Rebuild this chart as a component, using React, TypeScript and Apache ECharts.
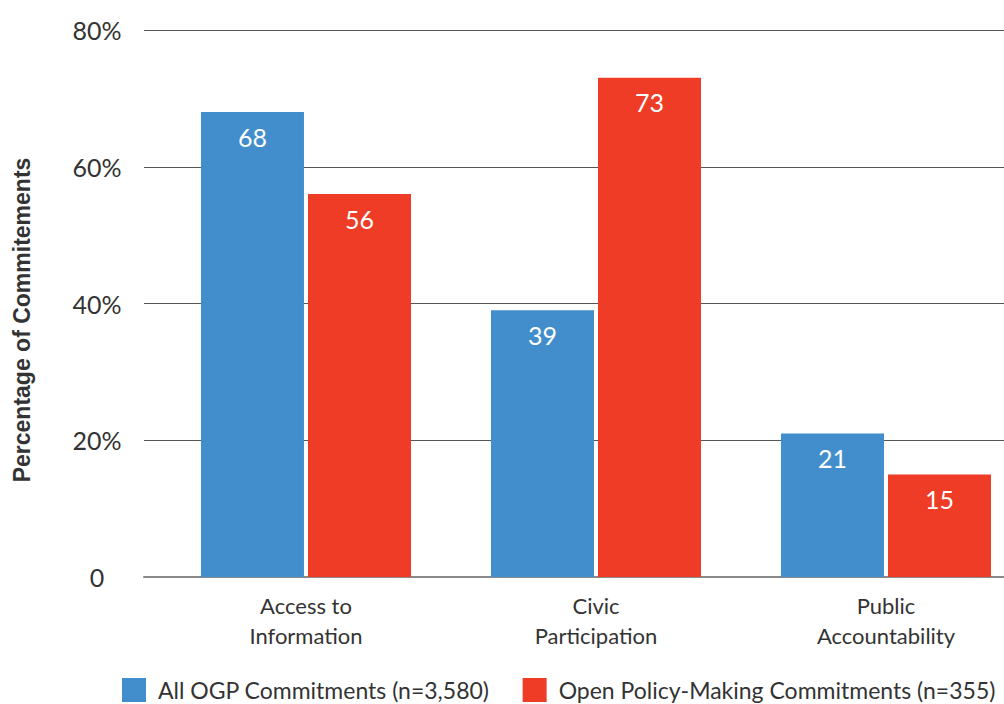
import React, { useEffect, useRef } from "react";
import * as echarts from "echarts";

const categories = ["Access to\nInformation", "Civic\nParticipation", "Public\nAccountability"];
const allOgp = [68, 39, 21];
const openPolicy = [56, 73, 15];
const seriesNames = ["All OGP Commitments (n=3,580)", "Open Policy-Making Commitments (n=355)"];
const yTicks = [0, 20, 40, 60, 80];
const yTitle = "Percentage of Commitements";

const BLUE = "#428ECC";
const RED = "#EE3C26";
const FONT = "Lato, 'Open Sans', sans-serif";

// The drawing surface is a little wider than the visible page so the bar
// frame can run past the right edge; the wrapper clips the overflow.
const VIEW_W = 1004;
const VIEW_H = 704;
const CANVAS_W = 1040;

export default function App() {
  const ref = useRef<HTMLDivElement>(null);

  useEffect(() => {
    if (!ref.current) return;
    const chart = echarts.init(ref.current, undefined, { renderer: "svg" });
    const yMax = yTicks[yTicks.length - 1];
    const step = yTicks[1] - yTicks[0];

    const barLabel = {
      show: true,
      position: "insideTop",
      distance: 12,
      color: "#ffffff",
      fontFamily: FONT,
      fontSize: 25,
    };

    chart.setOption({
      animation: false,
      backgroundColor: "#ffffff",
      textStyle: { fontFamily: FONT },
      grid: [
        // frame for the value scale and gridlines
        { left: 144, right: CANVAS_W - VIEW_W, top: 30, bottom: 127 },
        // frame holding the bars
        { left: 161, width: 870, top: 30, bottom: 127 },
      ],
      xAxis: [
        {
          gridIndex: 0,
          type: "category",
          data: categories,
          axisLine: { show: true, lineStyle: { color: "#8a8a8a", width: 2 } },
          axisTick: { show: false },
          axisLabel: { show: false },
        },
        {
          gridIndex: 1,
          type: "category",
          data: categories,
          axisLine: { show: false },
          axisTick: { show: false },
          axisLabel: {
            margin: 13,
            color: "#333333",
            fontFamily: FONT,
            fontSize: 22,
            lineHeight: 30,
          },
        },
      ],
      yAxis: [
        {
          gridIndex: 0,
          type: "value",
          min: 0,
          max: yMax,
          interval: step,
          axisLine: { show: false },
          axisTick: { show: false },
          splitLine: { show: true, lineStyle: { color: "#555555", width: 1.2 } },
          axisLabel: {
            margin: 47,
            align: "center",
            color: "#333333",
            fontFamily: FONT,
            fontSize: 25,
            formatter: (v: number) => (v === 0 ? "0" : `${v}%`),
          },
        },
        {
          gridIndex: 1,
          type: "value",
          min: 0,
          max: yMax,
          interval: step,
          show: false,
          splitLine: { show: false },
        },
      ],
      legend: {
        left: 122,
        top: 678,
        padding: 0,
        itemWidth: 24,
        itemHeight: 24,
        itemGap: 33,
        icon: "rect",
        textStyle: {
          color: "#333333",
          fontFamily: FONT,
          fontSize: 23,
          padding: [0, 0, 0, 7],
        },
        data: seriesNames,
      },
      series: [
        {
          name: seriesNames[0],
          type: "bar",
          xAxisIndex: 1,
          yAxisIndex: 1,
          data: allOgp,
          barWidth: 103,
          barGap: "3.9%",
          itemStyle: { color: BLUE },
          label: barLabel,
        },
        {
          name: seriesNames[1],
          type: "bar",
          xAxisIndex: 1,
          yAxisIndex: 1,
          data: openPolicy,
          barWidth: 103,
          barGap: "3.9%",
          itemStyle: { color: RED },
          label: barLabel,
        },
      ],
      graphic: [
        {
          type: "text",
          x: 22,
          y: 320,
          rotation: Math.PI / 2,
          style: {
            text: yTitle,
            fill: "#333333",
            font: "bold 23px 'Liberation Sans', Arial, sans-serif",
            align: "center",
            verticalAlign: "middle",
          },
        },
      ],
    });

    return () => chart.dispose();
  }, []);

  return (
    <div
      style={{
        position: "fixed",
        left: 0,
        top: 0,
        width: VIEW_W,
        height: VIEW_H,
        overflow: "hidden",
        background: "#ffffff",
      }}
    >
      <div ref={ref} style={{ width: CANVAS_W, height: VIEW_H }} />
    </div>
  );
}
